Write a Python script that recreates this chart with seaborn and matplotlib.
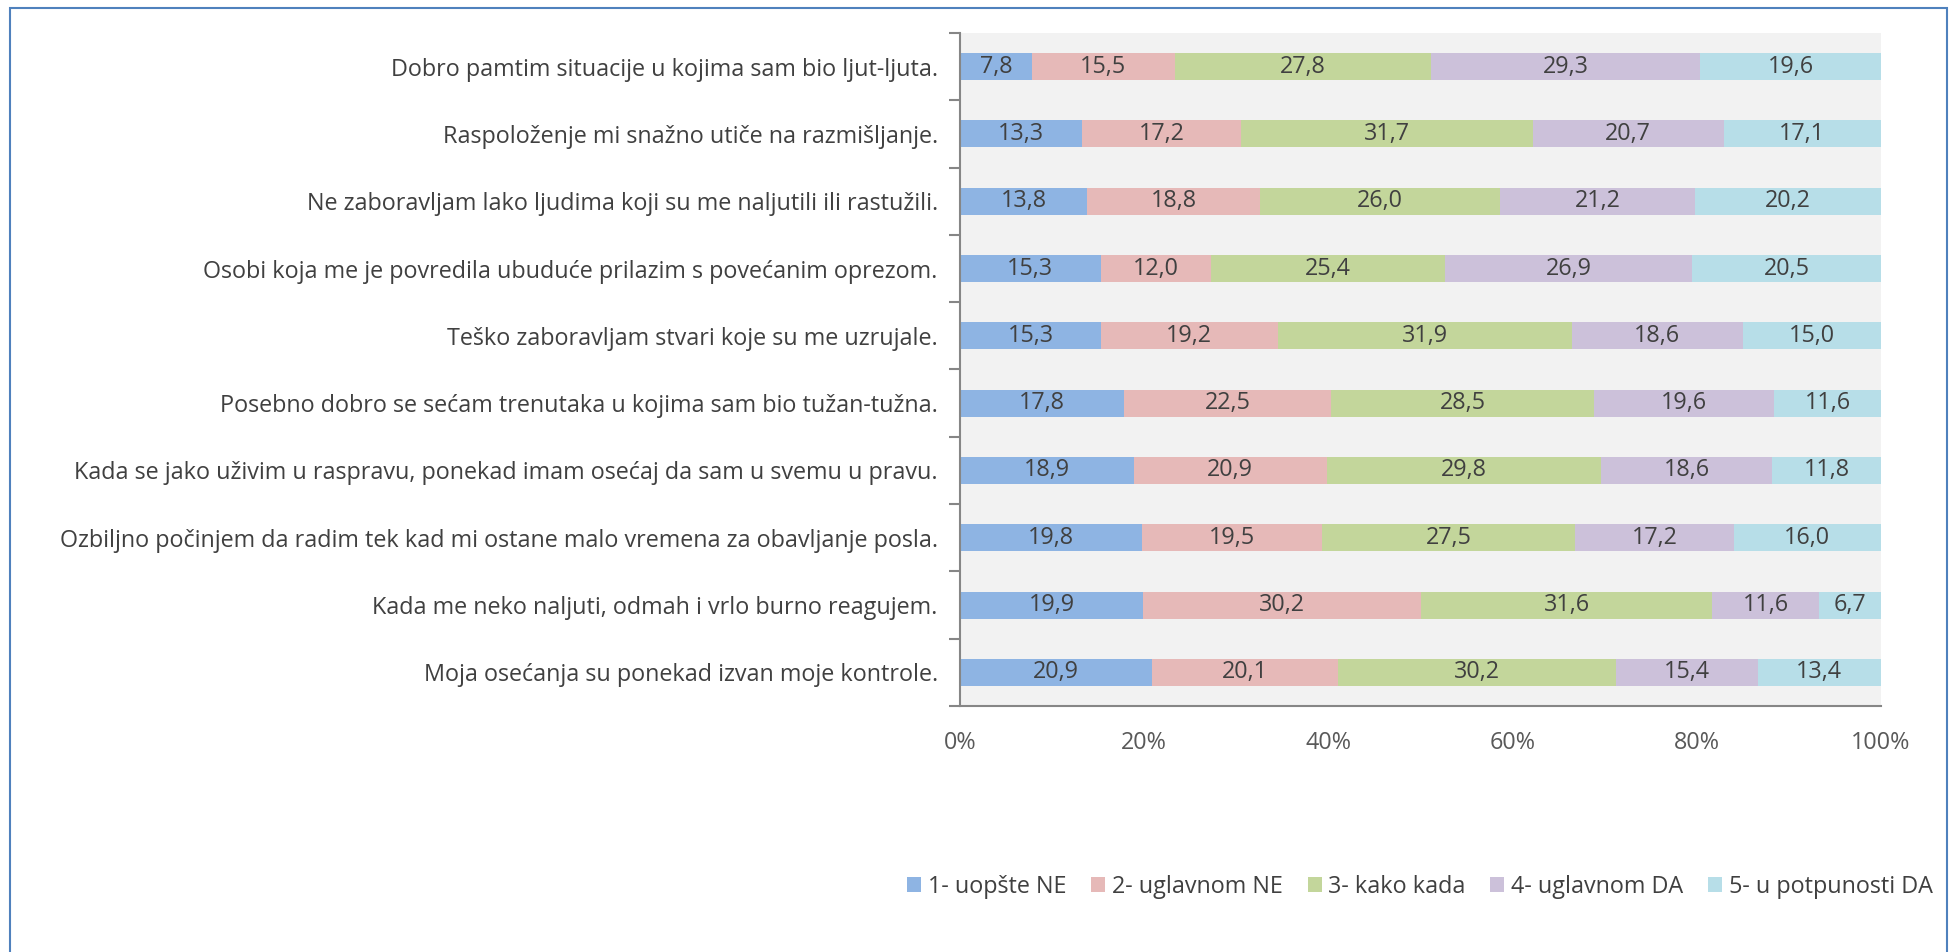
import matplotlib
matplotlib.use("Agg")
import matplotlib.pyplot as plt
import seaborn as sns
import numpy as np
from matplotlib.patches import Rectangle

items = [
    "Dobro pamtim situacije u kojima sam bio ljut-ljuta.",
    "Raspoloženje mi snažno utiče na razmišljanje.",
    "Ne zaboravljam lako ljudima koji su me naljutili ili rastužili.",
    "Osobi koja me je povredila ubuduće prilazim s povećanim oprezom.",
    "Teško zaboravljam stvari koje su me uzrujale.",
    "Posebno dobro se sećam trenutaka u kojima sam bio tužan-tužna.",
    "Kada se jako uživim u raspravu, ponekad imam osećaj da sam u svemu u pravu.",
    "Ozbiljno počinjem da radim tek kad mi ostane malo vremena za obavljanje posla.",
    "Kada me neko naljuti, odmah i vrlo burno reagujem.",
    "Moja osećanja su ponekad izvan moje kontrole.",
]
responses = ["1- uopšte NE", "2- uglavnom NE", "3- kako kada", "4- uglavnom DA", "5- u potpunosti DA"]
v1 = [7.8, 13.3, 13.8, 15.3, 15.3, 17.8, 18.9, 19.8, 19.9, 20.9]
v2 = [15.5, 17.2, 18.8, 12.0, 19.2, 22.5, 20.9, 19.5, 30.2, 20.1]
v3 = [27.8, 31.7, 26.0, 25.4, 31.9, 28.5, 29.8, 27.5, 31.6, 30.2]
v4 = [29.3, 20.7, 21.2, 26.9, 18.6, 19.6, 18.6, 17.2, 11.6, 15.4]
v5 = [19.6, 17.1, 20.2, 20.5, 15.0, 11.6, 11.8, 16.0, 6.7, 13.4]
xticklabels = ["0%", "20%", "40%", "60%", "80%", "100%"]
colors = ["#8EB4E3", "#E6B9B8", "#C3D69B", "#CCC1DA", "#B7DEE8"]

sns.set_style("white")
plt.rcParams["font.family"] = ["Open Sans", "DejaVu Sans"]
TXT = "#404040"
FS = 16.8

fig = plt.figure(figsize=(19.59, 9.52), dpi=100)
ax = fig.add_axes([960 / 1959, 1 - 706 / 952, (1881 - 960) / 1959, (706 - 33) / 952])
ax.set_facecolor("#F2F2F2")

series = [np.array(v, dtype=float) for v in (v1, v2, v3, v4, v5)]
total = np.sum(series, axis=0)
series = [s / total * 100 for s in series]
raw = [v1, v2, v3, v4, v5]

left = np.zeros(len(items))
handles = []
for k, (s, c, name) in enumerate(zip(series, colors, responses)):
    sns.barplot(x=s, y=items, left=left, color=c, saturation=1, width=0.4,
                orient="h", ax=ax, linewidth=0)
    cont = ax.containers[-1]
    handles.append(cont)
    ax.bar_label(cont, labels=[f"{v:.1f}".replace(".", ",") for v in raw[k]],
                 label_type="center", color=TXT, fontsize=FS)
    left = left + s

if ax.get_legend() is not None:
    ax.get_legend().remove()

ax.set_xlim(0, 100)
ax.set_ylim(len(items) - 0.5, -0.5)
ax.set_xticks([0, 20, 40, 60, 80, 100])
ax.set_xticklabels(xticklabels, fontsize=FS, color="#595959")
ax.set_xticks([0, 100], minor=True)
ax.tick_params(axis="x", which="major", length=0, pad=18)
ax.tick_params(axis="x", which="minor", length=8, width=1.5, color="#868686", direction="out", bottom=True)
ax.set_yticks(range(len(items)))
ax.set_yticklabels(items, fontsize=FS, color=TXT)
ax.set_yticks(np.arange(-0.5, len(items)), minor=True)
ax.tick_params(axis="y", which="major", length=0, pad=16)
ax.tick_params(axis="y", which="minor", length=8, width=1.5, color="#868686", direction="out", left=True)
ax.set_xlabel("")
ax.set_ylabel("")
for side in ["top", "right"]:
    ax.spines[side].set_visible(False)
for side in ["left", "bottom"]:
    ax.spines[side].set_color("#868686")
    ax.spines[side].set_linewidth(1.5)

leg = fig.legend(handles=handles, labels=responses, loc="center", bbox_to_anchor=(1420 / 1959, 1 - 887 / 952),
                 ncol=5, frameon=False, fontsize=FS, handlelength=0.6, handleheight=0.6,
                 handletextpad=0.3, columnspacing=1.05, labelcolor=TXT)

frame = Rectangle((10 / 1959, -0.05), (1947 - 10) / 1959, 1.05 - 8 / 952, transform=fig.transFigure,
                  fill=False, edgecolor="#4F81BD", linewidth=1.5)
fig.add_artist(frame)

fig.savefig("out.png", dpi=100)
